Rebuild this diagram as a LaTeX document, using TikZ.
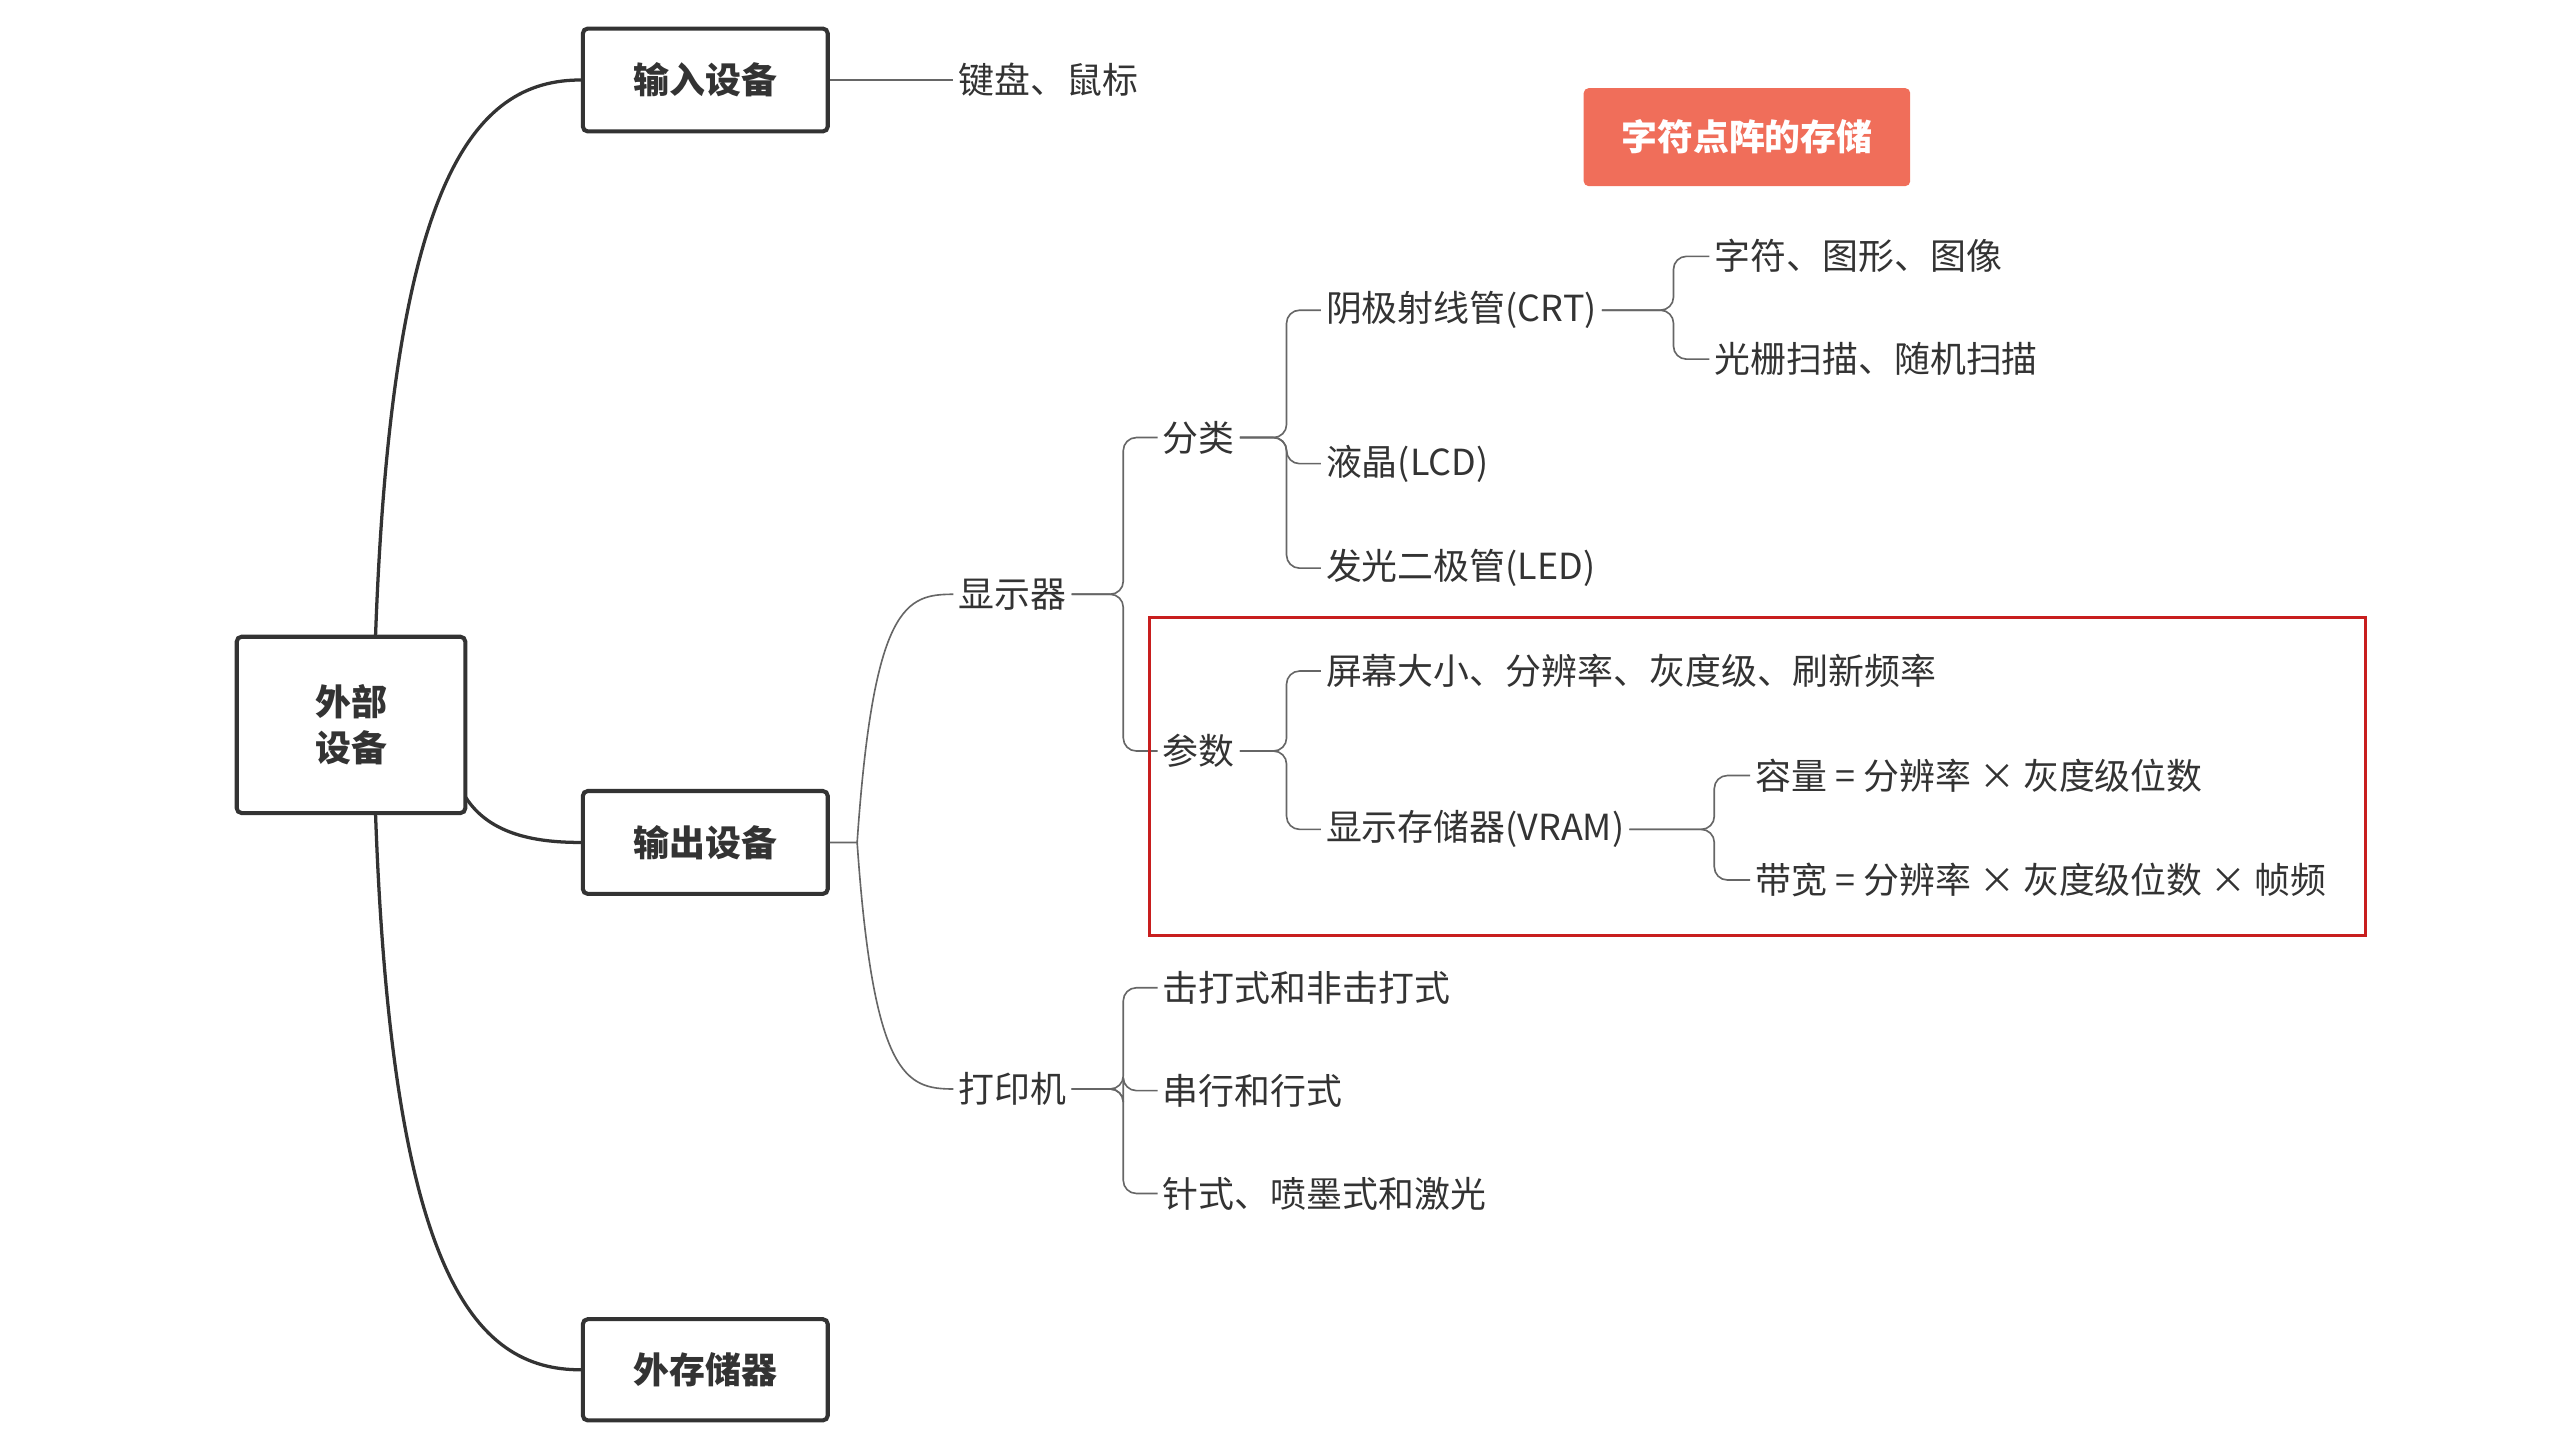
\documentclass[tikz,border=0pt]{standalone}
\usepackage{fontspec}
\setmainfont{Noto Sans CJK SC}
\begin{document}
\begin{tikzpicture}[x=1pt,y=-1pt,
  box/.style={draw=black!80,line width=2.5pt,rounded corners=3pt,font=\fontsize{22}{28}\selectfont\bfseries,text=black!80,align=center},
  lbl/.style={font=\fontsize{22}{26}\selectfont,text=black!80,inner sep=3pt},
  br/.style={draw=black!60,line width=1pt,rounded corners=8pt},
  main/.style={draw=black!80,line width=2pt}]
\useasboundingbox (0,0) rectangle (1568,882);
\node[box,minimum width=140pt,minimum height=108pt] (ext) at (215,444) {外部\\设备};
\node[box,minimum width=150pt,minimum height=63pt] (in) at (432,49) {输入设备};
\node[box,minimum width=150pt,minimum height=63pt] (out) at (432,516) {输出设备};
\node[box,minimum width=150pt,minimum height=62pt] (st) at (432,839) {外存储器};
\node[fill={rgb,255:red,240;green,110;blue,90},text=white,rounded corners=3pt,minimum width=200pt,minimum height=60pt,font=\fontsize{22}{26}\selectfont\bfseries] (title) at (1070,84) {字符点阵的存储};
\draw[main] (230,390) .. controls (240,110) and (290,49) .. (in.west);
\draw[main] (230,498) .. controls (240,780) and (290,839) .. (st.west);
\draw[main] (285,488) .. controls (300,512) and (330,516) .. (out.west);
\node[lbl,anchor=west] (kb) at (584,49) {键盘、鼠标};
\draw[br] (in.east) -- (kb.west);
\node[lbl,anchor=west] (disp) at (584,364) {显示器};
\node[lbl,anchor=west] (prn) at (584,667) {打印机};
\draw[draw=black!60,line width=1pt] (out.east) -- (525,516) .. controls (535,370) and (555,364) .. (disp.west);
\draw[draw=black!60,line width=1pt] (525,516) .. controls (535,660) and (555,667) .. (prn.west);
\node[lbl,anchor=west] (cls) at (709,268) {分类};
\node[lbl,anchor=west] (par) at (709,460) {参数};
\draw[br] (disp.east) -- (688,364) |- (cls.west);
\draw[br] (disp.east) -- (688,364) |- (par.west);
\node[lbl,anchor=west] (crt) at (809,190) {阴极射线管(CRT)};
\node[lbl,anchor=west] (lcd) at (809,284) {液晶(LCD)};
\node[lbl,anchor=west] (led) at (809,348) {发光二极管(LED)};
\foreach \c in {crt,lcd,led} \draw[br] (cls.east) -- (788,268) |- (\c.west);
\node[lbl,anchor=west] (c1) at (1047,157) {字符、图形、图像};
\node[lbl,anchor=west] (c2) at (1047,220) {光栅扫描、随机扫描};
\foreach \c in {c1,c2} \draw[br] (crt.east) -- (1025,190) |- (\c.west);
\node[lbl,anchor=west] (p1) at (809,411) {屏幕大小、分辨率、灰度级、刷新频率};
\node[lbl,anchor=west] (vram) at (809,508) {显示存储器(VRAM)};
\foreach \c in {p1,vram} \draw[br] (par.east) -- (788,460) |- (\c.west);
\node[lbl,anchor=west] (v1) at (1072,475) {容量 = 分辨率 × 灰度级位数};
\node[lbl,anchor=west] (v2) at (1072,539) {带宽 = 分辨率 × 灰度级位数 × 帧频};
\foreach \c in {v1,v2} \draw[br] (vram.east) -- (1050,508) |- (\c.west);
\node[draw={rgb,255:red,200;green,30;blue,30},line width=2pt,minimum width=745pt,minimum height=195pt] (frame) at (1076.5,475.5) {};
\node[lbl,anchor=west] (q1) at (709,605) {击打式和非击打式};
\node[lbl,anchor=west] (q2) at (709,668) {串行和行式};
\node[lbl,anchor=west] (q3) at (709,731) {针式、喷墨式和激光};
\foreach \c in {q1,q2,q3} \draw[br] (prn.east) -- (688,667) |- (\c.west);
\end{tikzpicture}
\end{document}
